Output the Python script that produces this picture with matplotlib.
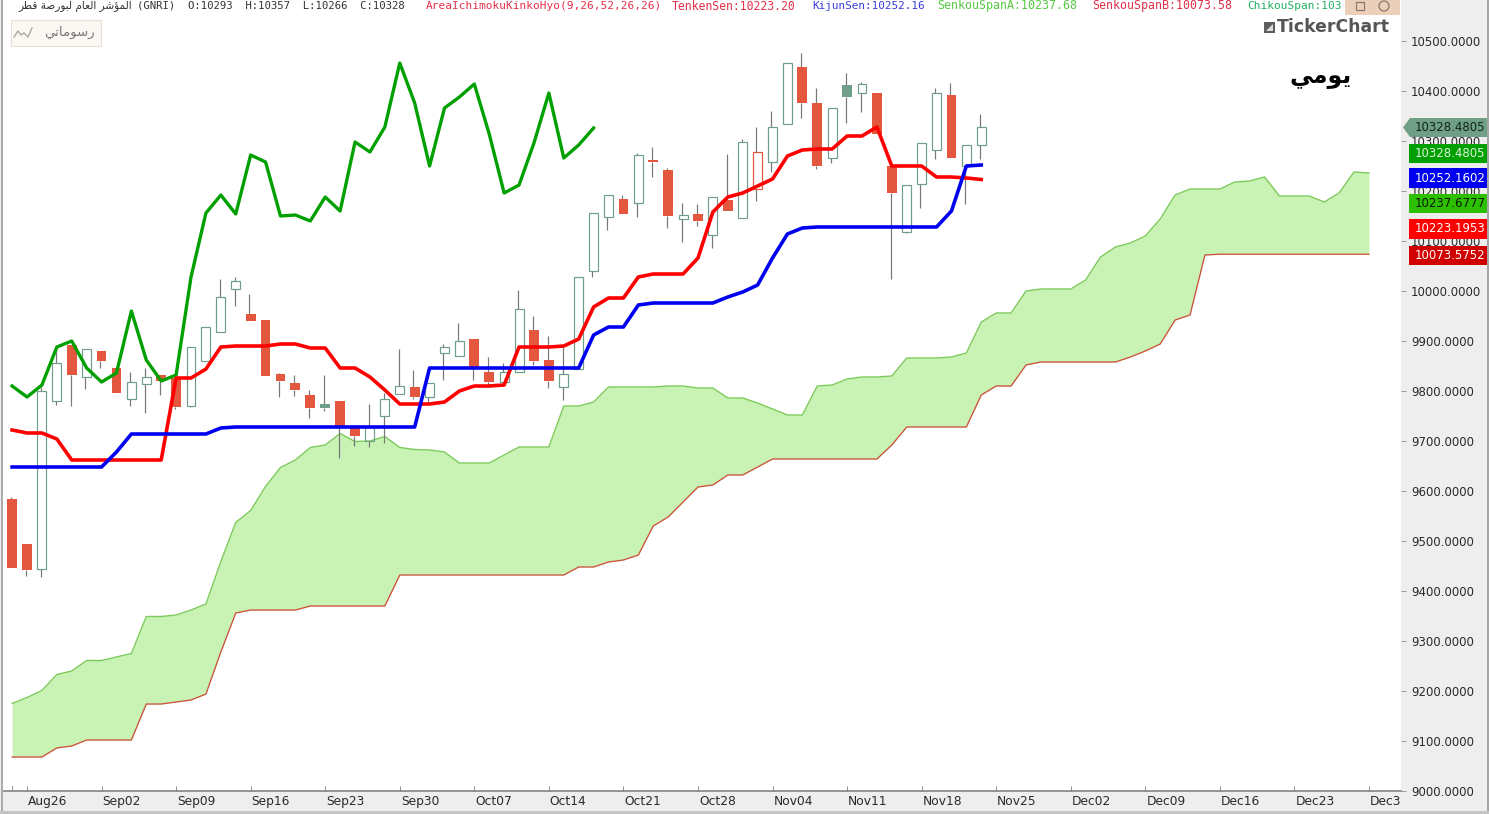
import matplotlib
matplotlib.use("Agg")
import matplotlib.pyplot as plt
from matplotlib.patches import Rectangle, Polygon, Ellipse
from matplotlib.lines import Line2D
from matplotlib.transforms import ScaledTranslation

W, H = 1489, 814

open_ = [9584,9494,9444,9780,9892,9828,9880,9846,9784,9814,9832,9826,9770,9860,9918,10004,9954,9942,9834,9816,
         9792,9774,9780,9726,9700,9750,9794,9808,9788,9876,9870,9904,9838,9818,9838,9922,9862,9808,9844,10040,
         10148,10184,10176,10262,10242,10144,10154,10112,10182,10146,10204,10258,10334,10448,10376,10266,10412,10396,10396,10250,
         10118,10214,10282,10392,10250,10292]
high = [9588,9494,9808,9886,9892,9884,9880,9846,9838,9846,9832,9826,9888,9928,10024,10028,9994,9942,9836,9832,
        9802,9832,9780,9732,9774,9796,9884,9842,9816,9894,9936,9904,9868,9856,10002,9950,9910,9888,10028,10156,
        10192,10192,10276,10288,10246,10176,10174,10188,10274,10304,10328,10360,10456,10476,10406,10366,10436,10418,10396,10250,
        10212,10296,10406,10416,10292,10354]
low = [9446,9430,9428,9772,9770,9804,9846,9796,9770,9756,9792,9764,9768,9860,9918,9970,9940,9830,9788,9790,
       9746,9760,9666,9690,9688,9696,9794,9784,9778,9822,9870,9822,9808,9816,9838,9852,9806,9782,9844,10028,
       10122,10154,10148,10228,10126,10098,10130,10086,10160,10146,10180,10238,10334,10346,10244,10256,10336,10358,10314,10024,
       10116,10166,10264,10266,10174,10264]
close = [9446,9442,9800,9856,9832,9884,9860,9796,9818,9828,9820,9768,9888,9928,9988,10020,9940,9830,9820,9802,
         9766,9766,9728,9710,9728,9784,9810,9788,9816,9888,9900,9846,9818,9838,9964,9860,9820,9834,10028,10156,
         10192,10154,10272,10258,10150,10152,10140,10188,10160,10298,10278,10328,10456,10376,10250,10366,10388,10414,10314,10196,
         10212,10296,10396,10266,10292,10328]

tenkan = [9722,9716,9716,9704,9662,9662,9662,9662,9662,9662,9662,9826,9826,9844,9888,9890,9890,9890,9894,9894,
          9886,9886,9846,9846,9828,9802,9774,9774,9774,9778,9800,9810,9810,9812,9888,9888,9888,9890,9904,9968,
          9986,9986,10028,10034,10034,10034,10066,10158,10188,10196,10210,10224,10270,10282,10284,10284,10310,10310,10328,10250,
          10250,10250,10228,10228,10226,10223]
kijun = [9648,9648,9648,9648,9648,9648,9648,9678,9714,9714,9714,9714,9714,9714,9726,9728,9728,9728,9728,9728,
         9728,9728,9728,9728,9728,9728,9728,9728,9846,9846,9846,9846,9846,9846,9846,9846,9846,9846,9846,9912,
         9928,9928,9972,9976,9976,9976,9976,9976,9988,9998,10012,10066,10114,10126,10128,10128,10128,10128,10128,10128,
         10128,10128,10128,10160,10250,10252]
chikou = [9810,9788,9812,9888,9900,9846,9818,9836,9960,9862,9820,9832,10028,10156,10192,10154,10272,10258,10150,10152,
          10140,10188,10160,10298,10278,10328,10456,10376,10250,10366,10388,10414,10314,10196,10212,10296,10396,10266,10292,10326]
span_a = [9175,9187,9201,9233,9240,9261,9261,9268,9275,9349,9349,9352,9362,9374,9459,9537,9561,9609,9647,9662,
          9687,9692,9715,9699,9700,9709,9687,9683,9682,9678,9656,9656,9656,9672,9688,9688,9688,9770,9770,9778,
          9808,9808,9808,9808,9810,9810,9806,9806,9786,9786,9776,9764,9752,9752,9810,9812,9824,9828,9828,9830,
          9866,9866,9866,9868,9876,9938,9956,9956,10000,10004,10004,10004,10022,10068,10088,10096,10110,10144,10192,10204,
          10204,10204,10218,10220,10228,10190,10190,10190,10178,10196,10238,10236]
span_b = [9068,9068,9068,9086,9090,9102,9102,9102,9102,9174,9174,9178,9182,9194,9278,9356,9362,9362,9362,9362,
          9370,9370,9370,9370,9370,9370,9432,9432,9432,9432,9432,9432,9432,9432,9432,9432,9432,9432,9448,9448,
          9458,9462,9472,9530,9548,9578,9608,9612,9632,9632,9648,9664,9664,9664,9664,9664,9664,9664,9664,9692,
          9728,9728,9728,9728,9728,9792,9810,9810,9852,9858,9858,9858,9858,9858,9858,9868,9880,9894,9942,9952,
          10072,10073.6,10073.6,10073.6,10073.6,10073.6,10073.6,10073.6,10073.6,10073.6,10073.6,10073.6]

price_ticks = [9000,9100,9200,9300,9400,9500,9600,9700,9800,9900,10000,10100,10200,10300,10400,10500]
date_labels = ["Aug26","Sep02","Sep09","Sep16","Sep23","Sep30","Oct07","Oct14","Oct21","Oct28","Nov04","Nov11",
               "Nov18","Nov25","Dec02","Dec09","Dec16","Dec23","Dec3"]
date_ticks = [1,6,11,16,21,26,31,36,41,46,51,56,61,66,71,76,81,86,91]

tag_values = ["10328.4805","10328.4805","10252.1602","10237.6777","10223.1953","10073.5752"]

FORMS = {
    'ا':(0xFE8D,0xFE8E,None,None),'ل':(0xFEDD,0xFEDE,0xFEDF,0xFEE0),'م':(0xFEE1,0xFEE2,0xFEE3,0xFEE4),
    'ؤ':(0xFE85,0xFE86,None,None),'ش':(0xFEB5,0xFEB6,0xFEB7,0xFEB8),'ر':(0xFEAD,0xFEAE,None,None),
    'ع':(0xFEC9,0xFECA,0xFECB,0xFECC),'ب':(0xFE8F,0xFE90,0xFE91,0xFE92),'و':(0xFEED,0xFEEE,None,None),
    'ص':(0xFEB9,0xFEBA,0xFEBB,0xFEBC),'ة':(0xFE93,0xFE94,None,None),'ق':(0xFED5,0xFED6,0xFED7,0xFED8),
    'ط':(0xFEC1,0xFEC2,0xFEC3,0xFEC4),'ي':(0xFEF1,0xFEF2,0xFEF3,0xFEF4),'ت':(0xFE95,0xFE96,0xFE97,0xFE98),
    'س':(0xFEB1,0xFEB2,0xFEB3,0xFEB4)}

def shape(s):
    out = []
    for word in s.split(' '):
        w = []
        for k, c in enumerate(word):
            f = FORMS[c]
            prev_joins = k > 0 and FORMS[word[k-1]][2] is not None
            next_joins = k < len(word)-1 and f[2] is not None
            if prev_joins and next_joins: g = f[3]
            elif prev_joins: g = f[1]
            elif next_joins: g = f[2]
            else: g = f[0]
            w.append(chr(g))
        out.append(''.join(reversed(w)))
    return ' '.join(reversed(out))

plt.rcParams['font.family'] = 'DejaVu Sans'
fig = plt.figure(figsize=(W/100, H/100), dpi=100, facecolor='#EEEEEE')
PXW = 72/100

def fx(x): return x/W
def fy(y): return 1-y/H

ax = fig.add_axes([3/W, 23/H, 1398/W, 791/H], facecolor='white')
ax.set_xlim(-0.61, 93.15)
ax.set_ylim(9000, 10582)

xa = list(range(len(span_a)))
ax.fill_between(xa, span_b, span_a, color='#C9F2B5', lw=0, zorder=1)
ax.plot(xa, span_a, color='#7CCB5A', lw=1.4*PXW, zorder=2)
ax.plot(xa, span_b, color='#D0503C', lw=1.3*PXW, zorder=2)

RED, GRN, WICK = '#E4573F', '#6F9F8A', '#777777'
for i in range(len(open_)):
    o, h, l, c = open_[i], high[i], low[i], close[i]
    top, bot = max(o, c), min(o, c)
    up = i > 0 and c >= close[i-1]
    col = GRN if up else RED
    ax.vlines(i-0.08, top, h, color=WICK, lw=1.2*PXW, zorder=3)
    ax.vlines(i-0.08, l, bot, color=WICK, lw=1.2*PXW, zorder=3)
    if c < o:
        ax.bar(i, top-bot, bottom=bot, width=0.66, color=col, lw=0, zorder=4)
    else:
        ax.bar(i, top-bot, bottom=bot, width=0.6, facecolor='none', edgecolor=col, lw=1.2*PXW, zorder=4)

ax.plot(range(len(chikou)), chikou, color='#00A000', lw=3.3*PXW, zorder=5)
ax.plot(range(len(tenkan)), tenkan, color='#FF0000', lw=3.6*PXW, zorder=6)
ax.plot(range(len(kijun)), kijun, color='#0000F0', lw=3.6*PXW, zorder=7)

for s in ['top', 'left', 'right']:
    ax.spines[s].set_visible(False)
ax.spines['bottom'].set_color('#777777')
ax.spines['bottom'].set_linewidth(1.5*PXW)

ax.yaxis.tick_right()
ax.set_yticks(price_ticks)
ax.set_yticklabels([f"{v}.0000" for v in price_ticks], color='#2A2A2A', fontsize=8.45)
ax.tick_params(axis='y', direction='out', length=5*PXW, width=0.8*PXW, color='#888888', pad=5*PXW)
ax.set_xticks(date_ticks)
ax.set_xticklabels(date_labels, color='#2A2A2A', fontsize=8.8, ha='left')
ax.tick_params(axis='x', direction='in', length=5*PXW, width=0.9*PXW, color='#888888', pad=2.8)
off = ScaledTranslation(1/100, 0, fig.dpi_scale_trans)
for t in ax.get_xticklabels():
    t.set_transform(t.get_transform() + off)
ax.add_line(Line2D([0, 0], [9000, 9000+10], color='#888888', lw=0.9*PXW, zorder=8))

def box(x0, y0, x1, y1, fc, ec='none', lw=0, z=5):
    fig.add_artist(Rectangle((fx(x0), fy(y1)), (x1-x0)/W, (y1-y0)/H, transform=fig.transFigure,
                             facecolor=fc, edgecolor=ec, lw=lw, zorder=z))

def label(x, y, s, color='#222222', size=8, ha='left', family='DejaVu Sans', weight='normal', z=6):
    fig.text(fx(x), fy(y), s, color=color, fontsize=size, ha=ha, va='center', family=family, weight=weight, zorder=z)

# frame edges
box(0, 0, 1.2, H, '#EEEEEE')
box(1.2, 0, 3, H, '#ABABAB')
box(W-2, 0, W, H, '#A5A5A5')
box(0, H-3, W, H, '#C4C4C4')

# tags on the price scale
fig.add_artist(Polygon([(fx(1403), fy(127.5)), (fx(1410), fy(118)), (fx(1487), fy(118)), (fx(1487), fy(137)), (fx(1410), fy(137))],
                       closed=True, transform=fig.transFigure, facecolor='#6F9F84', edgecolor='none', zorder=5))
label(1415, 127.5, tag_values[0], color='#10241A', size=8.45)
tag_rows = [(144, 163, '#00A000', '#DFF5DF', 1), (168, 188, '#0000F0', '#FFFFFF', 2), (194, 213, '#2DC000', '#061A00', 3),
            (219, 239, '#FF0000', '#FFFFFF', 4), (246, 265, '#D00000', '#FFFFFF', 5)]
for y0, y1, fc, tc, k in tag_rows:
    box(1409, y0, 1487, y1, fc)
    label(1415, (y0+y1)/2, tag_values[k], color=tc, size=8.45)

# header
HM = 'DejaVu Sans Mono'
label(132, 6, shape('المؤشر العام لبورصة قطر'), color='#333333', size=7.6, ha='right')
label(137, 6, '(GNRI)  O:10293  H:10357  L:10266  C:10328', color='#333333', size=7.7, family=HM)
label(426, 6, 'AreaIchimokuKinkoHyo(9,26,52,26,26)', color='#E8304A', size=8.0, family=HM)
label(672, 6, 'TenkenSen:10223.20', color='#E8304A', size=8.3, family=HM)
label(812, 6, 'KijunSen:10252.16', color='#3A3AE0', size=7.9, family=HM)
label(937, 6, 'SenkouSpanA:10237.68', color='#55C840', size=8.4, family=HM)
label(1092, 6, 'SenkouSpanB:10073.58', color='#E0304A', size=8.4, family=HM)
label(1247, 6, 'ChikouSpan:103', color='#22B060', size=8.0, family=HM)

# window buttons
box(1345, 0, 1400, 15, '#EBCFB8')
box(1356, 2, 1364, 10, 'none', ec='#8A7A70', lw=0.9)
fig.add_artist(Ellipse((fx(1384), fy(6)), 10/W, 10/H, transform=fig.transFigure, facecolor='none', edgecolor='#8A7A70', lw=0.9, zorder=6))

# drawings button
box(10.5, 20, 101, 46, '#FBF7F2', ec='#E8DFD6', lw=0.8)
fig.add_artist(Line2D([fx(14), fx(18), fx(21), fx(24), fx(28), fx(32)],
                      [fy(37), fy(31), fy(35), fy(33), fy(37), fy(28)], color='#B0A8A0', lw=1, zorder=6))
label(95, 32, shape('رسوماتي'), color='#7A7A7A', size=9.5, ha='right')

# TickerChart logo
box(1264, 22, 1275, 33, '#5E5E5E')
fig.add_artist(Polygon([(fx(1266), fy(31)), (fx(1273), fy(24)), (fx(1273), fy(31))], closed=True,
                       transform=fig.transFigure, facecolor='#DDDDDD', edgecolor='none', zorder=6))
label(1277, 27.5, 'TickerChart', color='#555555', size=12.4, weight='bold')

label(1321, 76, shape('يومي'), color='black', size=17, ha='center', weight='bold')

fig.savefig('out.png', dpi=100, facecolor=fig.get_facecolor())
